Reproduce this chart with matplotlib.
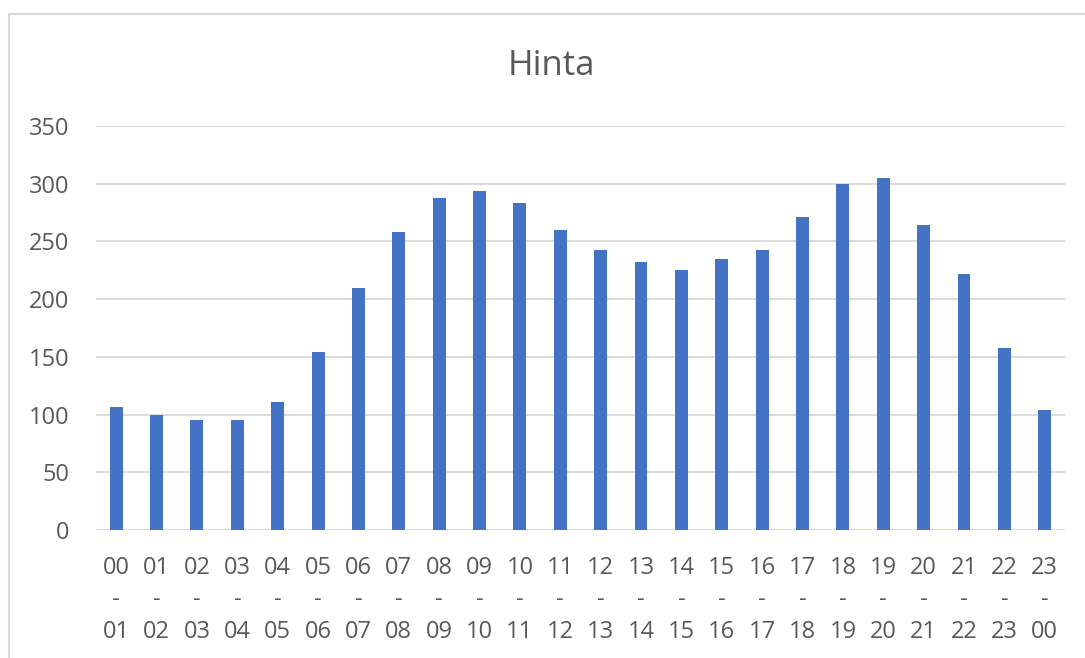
import matplotlib
matplotlib.use('Agg')
import matplotlib.pyplot as plt
from matplotlib.patches import Rectangle

# ── Data ──────────────────────────────────────────────────────────────────
hours = ["00", "01", "02", "03", "04", "05", "06", "07", "08", "09", "10", "11",
         "12", "13", "14", "15", "16", "17", "18", "19", "20", "21", "22", "23"]
next_hours = hours[1:] + ["00"]
prices = [107, 100, 95, 95, 111, 154, 210, 258, 288, 294, 283, 260,
          243, 232, 225, 235, 243, 271, 300, 305, 264, 222, 158, 104]
labels = [f"{a}\n-\n{b}" for a, b in zip(hours, next_hours)]
yticks = [0, 50, 100, 150, 200, 250, 300, 350]

# ── Plot ──────────────────────────────────────────────────────────────────
plt.rcParams['font.family'] = ['Open Sans', 'DejaVu Sans']
TXT = "#595959"
GRID = "#d9d9d9"

fig = plt.figure(figsize=(10.85, 6.58), dpi=100)
ax = fig.add_axes([0.0885, 0.1945, 0.893, 0.614])

x = list(range(len(prices)))
ax.bar(x, prices, width=0.32, color="#4472C4", zorder=3)

ax.set_xlim(-0.5, len(prices) - 0.5)
ax.set_ylim(0, 350)
ax.set_yticks(yticks)
ax.set_xticks(x)
ax.set_xticklabels(labels, linespacing=1.42)
ax.yaxis.grid(True, color=GRID, linewidth=1.3, zorder=0)
for s in ax.spines.values():
    s.set_visible(False)
ax.tick_params(axis="both", length=0, labelsize=17, colors=TXT)
ax.tick_params(axis="y", pad=19)
ax.tick_params(axis="x", pad=19)

fig.text(0.5085, 0.9, "Hinta", ha="center", va="center", fontsize=25, color=TXT)

# chart area border (cut off at the right and bottom)
fig.patches.append(Rectangle((9 / 1085, -0.1), 1.2, 1.1 - 14 / 658,
                             transform=fig.transFigure, fill=False,
                             edgecolor=GRID, linewidth=1.5))

fig.savefig("out.png", dpi=100)
